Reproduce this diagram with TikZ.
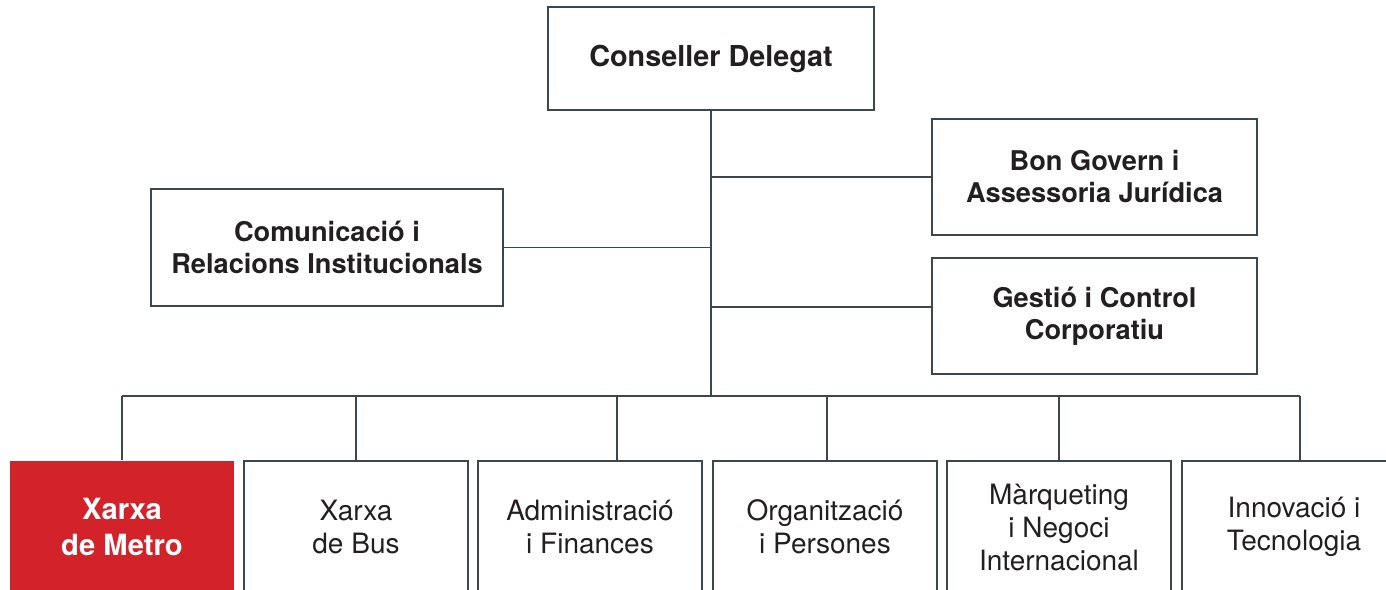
\documentclass[tikz,border=0pt]{standalone}
\usepackage{fontspec}
\setmainfont{TeX Gyre Heros}
\definecolor{tmbred}{HTML}{D2232A}
\definecolor{tmbline}{HTML}{3C4650}
\definecolor{tmbtext}{HTML}{231F20}

\begin{document}
\begin{tikzpicture}[x=0.5pt,y=-0.5pt,
   unit/.style={draw=tmbline,line width=0.6pt,align=center,inner sep=0pt,
      text=tmbtext,font=\fontsize{13.6}{16}\selectfont\bfseries},
   area/.style={unit,minimum width=112pt,minimum height=66pt,
      font=\fontsize{14}{16.5}\selectfont},
   link/.style={draw=tmbline,line width=0.6pt}]
\useasboundingbox (0,0) rectangle (1386,589);
\clip (0,0) rectangle (1386,589);
% direction
\node[unit,minimum width=163pt,minimum height=51.5pt,
   font=\fontsize{14.4}{15}\selectfont\bfseries] (cd) at (711,58.5) {Conseller Delegat};
\node[unit,minimum width=176pt,minimum height=58.5pt] (cri) at (327,247.5)
   {Comunicació i\\Relacions Institucionals};
\node[unit,minimum width=162.5pt,minimum height=58pt] (bg) at (1094.5,177)
   {Bon Govern i\\Assessoria Jurídica};
\node[unit,minimum width=162.5pt,minimum height=58pt] (gc) at (1094.5,316)
   {Gestió i Control\\Corporatiu};
\coordinate (gc-in) at ([yshift=4.5pt]gc.west);
\coordinate (bus) at (711,396);
\draw[link] (cd.south) -- (bus);
\draw[link] (cd.south |- bg.west) -- (bg.west);
\draw[link] (cd.south |- cri.east) -- (cri.east);
\draw[link] (cd.south |- gc-in) -- (gc-in);
% areas
\node[area,draw=none,fill=tmbred,text=white,
   font=\fontsize{14.6}{18}\selectfont\bfseries] (b1) at (122,527) {Xarxa\\de Metro};
\coordinate (d1) at (122,396);
\draw[link] (d1) -- (d1 |- b1.north);
\foreach \i/\cx/\drop/\txt in {2/356/356/{Xarxa\\de Bus},
      3/590/617/{Administració\\i Finances},
      4/825/827/{Organització\\i Persones},
      5/1059/1059/{Màrqueting\\i Negoci\\Internacional},
      6/1294/1300/{Innovació i\\Tecnologia}}{
   \node[area] (b\i) at (\cx,527) {\txt};
   \coordinate (d\i) at (\drop,396);
   \draw[link] (d\i) -- (d\i |- b\i.north);
}
\draw[link] (d1) -- (d6);
\end{tikzpicture}
\end{document}
